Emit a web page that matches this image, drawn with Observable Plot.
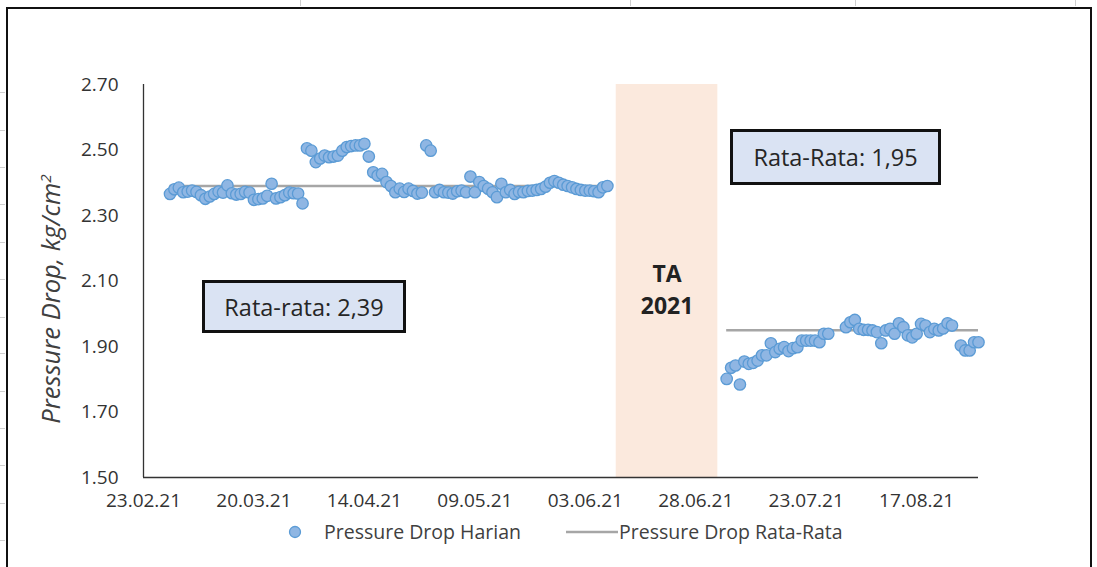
<!DOCTYPE html>
<html>
<head>
<meta charset="utf-8">
<script src="https://cdn.jsdelivr.net/npm/d3@7"></script>
<script src="https://cdn.jsdelivr.net/npm/@observablehq/plot@0.6"></script>
<style>
  html, body { margin: 0; padding: 0; background: #fff; overflow: hidden; }
  #wrap { position: relative; width: 1097px; height: 567px; font-family: "Open Sans", sans-serif; }
  #frame { position: absolute; left: 6px; top: 7px; width: 1082px; height: 620px; border: 2px solid #111; border-bottom: none; }
  .grid { position: absolute; background: #cfcfcf; }
  .box { position: absolute; box-sizing: border-box; background: #dae3f3; border: 3px solid #111;
         display: flex; align-items: center; justify-content: center; font-size: 23.5px; color: #262626; }
  #ylabel { position: absolute; left: 50px; top: 299px; transform: translate(-50%, -50%) rotate(-90deg);
            white-space: nowrap; font-style: italic; font-size: 25.5px; color: #404040; }
  #legend { position: absolute; left: 0; top: 519px; width: 1097px; height: 26px; font-size: 19.5px; color: #404040; }
  #legend .item { position: absolute; top: 0; line-height: 26px; white-space: nowrap; }
  #chart { position: absolute; left: 0; top: 0; }
</style>
</head>
<body>
<div id="wrap">
  <div id="frame"></div>
  <div id="chart"></div>
  <div id="ylabel">Pressure Drop, kg/cm<sup style="font-size:0.6em">2</sup></div>
  <div class="box" style="left:202px; top:280px; width:204px; height:53px;">Rata-rata: 2,39</div>
  <div class="box" style="left:730px; top:129px; width:211px; height:56px;">Rata-Rata: 1,95</div>
  <div id="legend"></div>
</div>
<script>
// ---- data ----
const xDomain = ["2021-02-23", "2021-08-31"];
const tickDates = ["2021-02-23", "2021-03-20", "2021-04-14", "2021-05-09", "2021-06-03", "2021-06-28", "2021-07-23", "2021-08-17"];
const tickLabels = ["23.02.21", "20.03.21", "14.04.21", "09.05.21", "03.06.21", "28.06.21", "23.07.21", "17.08.21"];
const yTicks = [1.50, 1.70, 1.90, 2.10, 2.30, 2.50, 2.70];

// daily values, period 1 starts 01.03.21, period 2 starts 05.07.21 (null = no reading)
const harian1Start = "2021-03-01";
const harian1 = [2.366,2.380,2.385,2.371,2.373,2.376,2.372,2.362,2.351,2.358,
 2.366,2.373,2.370,2.392,2.368,2.364,2.366,2.372,2.370,2.348,
 2.350,2.352,2.360,2.397,2.352,2.356,2.362,2.370,2.368,2.367,
 2.337,2.505,2.498,2.463,2.474,2.483,2.478,2.480,2.483,2.498,
 2.509,2.512,2.514,2.514,2.519,2.480,2.432,2.422,2.427,2.402,
 2.390,2.371,2.382,2.372,2.382,2.375,2.367,2.370,2.514,2.498,
 2.371,2.378,2.371,2.370,2.367,2.374,2.376,2.371,2.419,2.371,
 2.402,2.390,2.382,2.371,2.356,2.397,2.371,2.378,2.366,2.372,
 2.371,2.375,2.376,2.378,2.381,2.388,2.400,2.405,2.400,2.394,
 2.390,2.386,2.381,2.378,2.376,2.376,2.374,2.371,2.386,2.390];
const harian2Start = "2021-07-05";
const harian2 = [1.801,1.835,1.842,1.784,1.854,1.847,1.850,1.857,1.873,1.873,
 1.910,1.883,1.893,1.898,1.886,1.895,1.898,1.918,1.918,1.918,
 1.918,1.913,1.939,1.939,null,null,null,1.959,1.974,1.981,
 1.954,1.951,1.951,1.949,1.944,1.910,1.949,1.954,1.939,1.971,
 1.959,1.934,1.928,1.939,1.969,1.964,1.944,1.954,1.949,1.955,
 1.971,1.964,null,1.903,1.888,1.888,1.913,1.913];

const rataStart = ["2021-03-01", "2021-07-05"];
const rataEnd = ["2021-06-08", "2021-08-31"];
const rataValue = [2.39, 1.95];

const taStart = "2021-06-10";
const taEnd = "2021-07-03";
const taLabel = "TA\n2021";

// ---- build tables ----
const parse = s => new Date(s + "T00:00:00Z");
const harian = [];
[[harian1Start, harian1], [harian2Start, harian2]].forEach(([s, vals]) => {
  vals.forEach((v, i) => { if (v != null) harian.push({date: d3.utcDay.offset(parse(s), i), value: v}); });
});
const rata = rataValue.map((v, i) => ({start: parse(rataStart[i]), end: parse(rataEnd[i]), value: v}));
const ta = [{start: parse(taStart), end: parse(taEnd), label: taLabel}];
const fmt = new Map(tickDates.map((d, i) => [+parse(d), tickLabels[i]]));

const chart = Plot.plot({
  width: 1097, height: 515,
  marginLeft: 143, marginRight: 119, marginTop: 84, marginBottom: 38,
  style: {fontFamily: "Open Sans, sans-serif", fontSize: "19px", color: "#404040", background: "transparent", overflow: "visible"},
  x: {type: "utc", domain: xDomain.map(parse)},
  y: {domain: [1.5, 2.7]},
  marks: [
    Plot.rect(ta, {x1: "start", x2: "end", y1: 1.5, y2: 2.7, fill: "#fbe9dd"}),
    Plot.text(ta, {x: d => new Date((+d.start + +d.end) / 2), y: 2.08, text: "label", fontWeight: "bold", fontSize: 23, fill: "#222", lineHeight: 1.4}),
    Plot.ruleY([1.5], {stroke: "#333", strokeWidth: 1.3}),
    Plot.ruleX([parse(xDomain[0])], {stroke: "#333", strokeWidth: 1.3}),
    Plot.axisX({ticks: tickDates.map(parse), tickFormat: d => fmt.get(+d), tickSize: 0, tickPadding: 16, label: null, fill: "#333"}),
    Plot.axisY({ticks: yTicks, tickFormat: d => d.toFixed(2), tickSize: 0, tickPadding: 25, label: null, fill: "#333"}),
    Plot.ruleY(rata, {y: "value", x1: "start", x2: "end", stroke: "#a6a6a6", strokeWidth: 2.5}),
    Plot.dot(harian, {x: "date", y: "value", r: 5.7, fill: "#8fb6e3", stroke: "#5b9bd5", strokeWidth: 1.3})
  ]
});
document.getElementById("chart").appendChild(chart);

// legend
const legend = document.getElementById("legend");
legend.innerHTML = `
  <div class="item" style="left:288px;"><svg width="14" height="26" style="vertical-align:top"><circle cx="7" cy="13" r="5.5" fill="#8fb6e3" stroke="#5b9bd5" stroke-width="1.3"/></svg></div>
  <div class="item" style="left:324px;">Pressure Drop Harian</div>
  <div class="item" style="left:566px;"><svg width="52" height="26" style="vertical-align:top"><line x1="0" x2="52" y1="13" y2="13" stroke="#a6a6a6" stroke-width="2.5"/></svg></div>
  <div class="item" style="left:619px;">Pressure Drop Rata-Rata</div>`;

// faint spreadsheet cell lines outside the chart frame
const wrap = document.getElementById("wrap");
[92, 130, 167, 204, 242, 279, 317, 353, 391, 428, 465, 503, 540].forEach(y => {
  const g = document.createElement("div"); g.className = "grid";
  g.style.cssText = `left:0;top:${y}px;width:5px;height:1px;`; wrap.appendChild(g);
});
[300, 630, 855, 1075].forEach(x => {
  const g = document.createElement("div"); g.className = "grid";
  g.style.cssText = `left:${x}px;top:0;width:1px;height:6px;`; wrap.appendChild(g);
});
</script>
</body>
</html>
